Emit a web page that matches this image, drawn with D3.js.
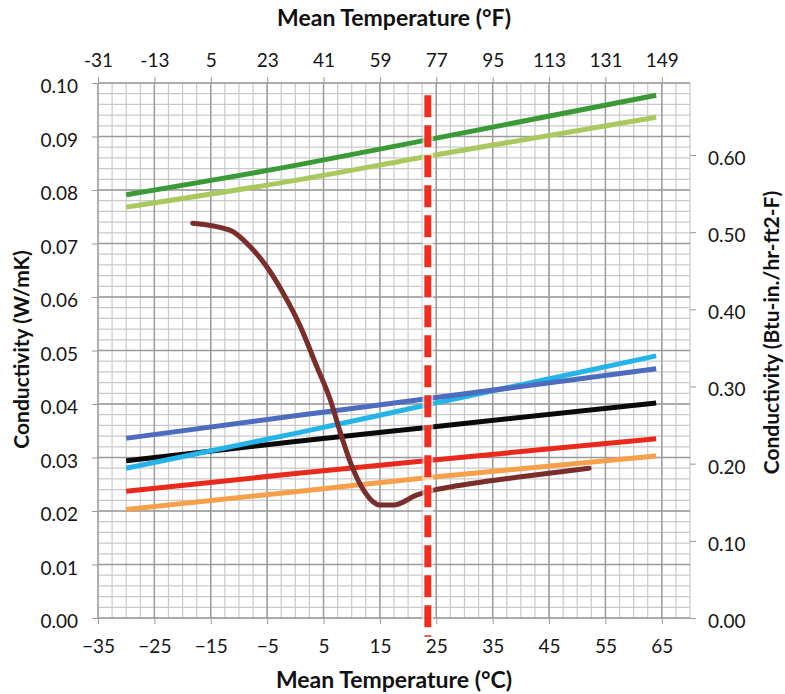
<!DOCTYPE html>
<html>
<head>
<meta charset="utf-8">
<script src="https://cdn.jsdelivr.net/npm/d3@7"></script>
<style>
  body { margin: 0; background: #fff; }
  .axis text { font-family: Lato, "Open Sans", sans-serif; font-size: 19px; fill: #151515; }
  .axis .domain { display: none; }
  .axis line { stroke: #999; }
  .title { font-family: Lato, "Open Sans", sans-serif; font-weight: bold; font-size: 21px; fill: #111; }
  .title.temp { font-size: 23px; }
</style>
</head>
<body>
<div id="chart"></div>
<script>
// temperatures (deg C), conductivity in W/mK
var tempC = [-30, 0, 25, 64];
var darkGreen  = [0.0791, 0.0846, 0.0897, 0.0977];
var lightGreen = [0.0768, 0.0818, 0.0866, 0.0936];
var blue       = [0.0336, 0.0378, 0.0412, 0.0466];
var cyan       = [0.0280, 0.0345, 0.0402, 0.0490];
var black      = [0.0294, 0.0330, 0.0358, 0.0402];
var red        = [0.0237, 0.0270, 0.0296, 0.0335];
var orange     = [0.0203, 0.0236, 0.0264, 0.0303];

// the odd one: steep drop then a slow rise
var brownT = [-18.2, -11.6, -8.0, -5.1, -2.2, 0.8, 3.8, 6.2, 8.0, 9.8, 12.1, 15.1, 17.4, 21.6, 24.5, 27.5, 40, 52.1];
var brownK = [0.0738, 0.0725, 0.0694, 0.0657, 0.0608, 0.0547, 0.0470, 0.0408, 0.0346, 0.0290, 0.0239, 0.0211, 0.0211, 0.0230, 0.0239, 0.0245, 0.0264, 0.0280];

var xTicksC = [-35, -25, -15, -5, 5, 15, 25, 35, 45, 55, 65];
var yTicks = [0, 0.01, 0.02, 0.03, 0.04, 0.05, 0.06, 0.07, 0.08, 0.09, 0.10];
var yTicksBtu = [0, 0.10, 0.20, 0.30, 0.40, 0.50, 0.60];
var btuPerW = 6.933; // W/mK -> Btu-in/hr-ft2-F

var refTemp = 23.5; // dashed reference line
var refRange = [0.0977, -0.0035];

var width = 785;
var height = 694;
var margin = {top: 83, right: 95, bottom: 76, left: 98};
var w = width - margin.left - margin.right;
var h = height - margin.top - margin.bottom;

var svg = d3.select("#chart").append("svg")
    .attr("width", width)
    .attr("height", height)
  .append("g")
    .attr("transform", "translate(" + margin.left + "," + margin.top + ")");

var x = d3.scaleLinear().domain([-35, 70]).range([0, w]);
var y = d3.scaleLinear().domain([0, 0.10]).range([h, 0]);
var yR = d3.scaleLinear().domain([0, 0.10 * btuPerW]).range([h, 0]);

// minor grid
svg.append("g").selectAll("line")
    .data(d3.range(-35, 70.01, 2.5))
  .enter().append("line")
    .attr("x1", function(d) { return x(d); })
    .attr("x2", function(d) { return x(d); })
    .attr("y1", 0).attr("y2", h)
    .style("stroke", "#c9c9c9").style("stroke-width", 1.2);

svg.append("g").selectAll("line")
    .data(d3.range(0, 0.1001, 0.002))
  .enter().append("line")
    .attr("x1", 0).attr("x2", w)
    .attr("y1", function(d) { return y(d); })
    .attr("y2", function(d) { return y(d); })
    .style("stroke", "#c9c9c9").style("stroke-width", 1.2);

// major grid
svg.append("g").selectAll("line")
    .data(xTicksC)
  .enter().append("line")
    .attr("x1", function(d) { return x(d); })
    .attr("x2", function(d) { return x(d); })
    .attr("y1", 0).attr("y2", h)
    .style("stroke", "#9a9a9a").style("stroke-width", 1.4);

svg.append("g").selectAll("line")
    .data(yTicks)
  .enter().append("line")
    .attr("x1", 0).attr("x2", w)
    .attr("y1", function(d) { return y(d); })
    .attr("y2", function(d) { return y(d); })
    .style("stroke", "#9a9a9a").style("stroke-width", 1.4);

// axes
svg.append("g")
    .attr("class", "axis")
    .attr("transform", "translate(0," + h + ")")
    .call(d3.axisBottom(x).tickValues(xTicksC).tickSize(6).tickPadding(16));

svg.append("g")
    .attr("class", "axis")
    .call(d3.axisTop(x).tickValues(xTicksC).tickSize(6).tickPadding(10)
        .tickFormat(function(d) { return Math.round(d * 9 / 5 + 32); }));

svg.append("g")
    .attr("class", "axis")
    .call(d3.axisLeft(y).tickValues(yTicks).tickSize(6).tickPadding(14)
        .tickFormat(d3.format(".2f")))
  .selectAll("text").attr("dy", "0.5em");

svg.append("g")
    .attr("class", "axis")
    .attr("transform", "translate(" + w + ",0)")
    .call(d3.axisRight(yR).tickValues(yTicksBtu).tickSize(6).tickPadding(12)
        .tickFormat(d3.format(".2f")))
  .selectAll("text").attr("dy", "0.5em");

// axis titles
svg.append("text")
    .attr("class", "title temp")
    .attr("x", w / 2)
    .attr("y", -57)
    .style("text-anchor", "middle")
    .text("Mean Temperature (°F)");

svg.append("text")
    .attr("class", "title temp")
    .attr("x", w / 2)
    .attr("y", h + 70)
    .style("text-anchor", "middle")
    .text("Mean Temperature (°C)");

svg.append("text")
    .attr("class", "title")
    .attr("transform", "rotate(-90)")
    .attr("x", -(h / 2) + 1)
    .attr("y", -69)
    .style("text-anchor", "middle")
    .text("Conductivity (W/mK)");

svg.append("text")
    .attr("class", "title")
    .attr("transform", "rotate(-90)")
    .attr("x", -(h / 2) + 18)
    .attr("y", w + 89)
    .style("text-anchor", "middle")
    .text("Conductivity (Btu-in./hr-ft2-F)");

// series
var series = [
  {vals: darkGreen, color: "#3a9a35"},
  {vals: lightGreen, color: "#a9c85e"},
  {vals: orange, color: "#f6a04c"},
  {vals: red, color: "#e8291c"},
  {vals: black, color: "#0a0a0a"},
  {vals: cyan, color: "#25b4e9"},
  {vals: blue, color: "#4d6bbf"}
];

var line = d3.line()
    .x(function(d) { return x(d[0]); })
    .y(function(d) { return y(d[1]); })
    .curve(d3.curveMonotoneX);

series.forEach(function(s) {
  svg.append("path")
      .datum(tempC.map(function(t, i) { return [t, s.vals[i]]; }))
      .attr("d", line)
      .style("fill", "none")
      .style("stroke", s.color)
      .style("stroke-width", 5);
});

svg.append("path")
    .datum(brownT.map(function(t, i) { return [t, brownK[i]]; }))
    .attr("d", line)
    .style("fill", "none")
    .style("stroke", "#7a2e2b")
    .style("stroke-width", 5)
    .style("stroke-linecap", "round");

// dashed reference line
svg.append("line")
    .attr("x1", x(refTemp)).attr("x2", x(refTemp))
    .attr("y1", y(refRange[0])).attr("y2", y(refRange[1]))
    .style("stroke", "#fff")
    .style("stroke-opacity", 0.6)
    .style("stroke-width", 11);

svg.append("line")
    .attr("x1", x(refTemp)).attr("x2", x(refTemp))
    .attr("y1", y(refRange[0])).attr("y2", y(refRange[1]))
    .style("stroke", "#ee2f1f")
    .style("stroke-width", 7)
    .style("stroke-dasharray", "22,8");
</script>
</body>
</html>
